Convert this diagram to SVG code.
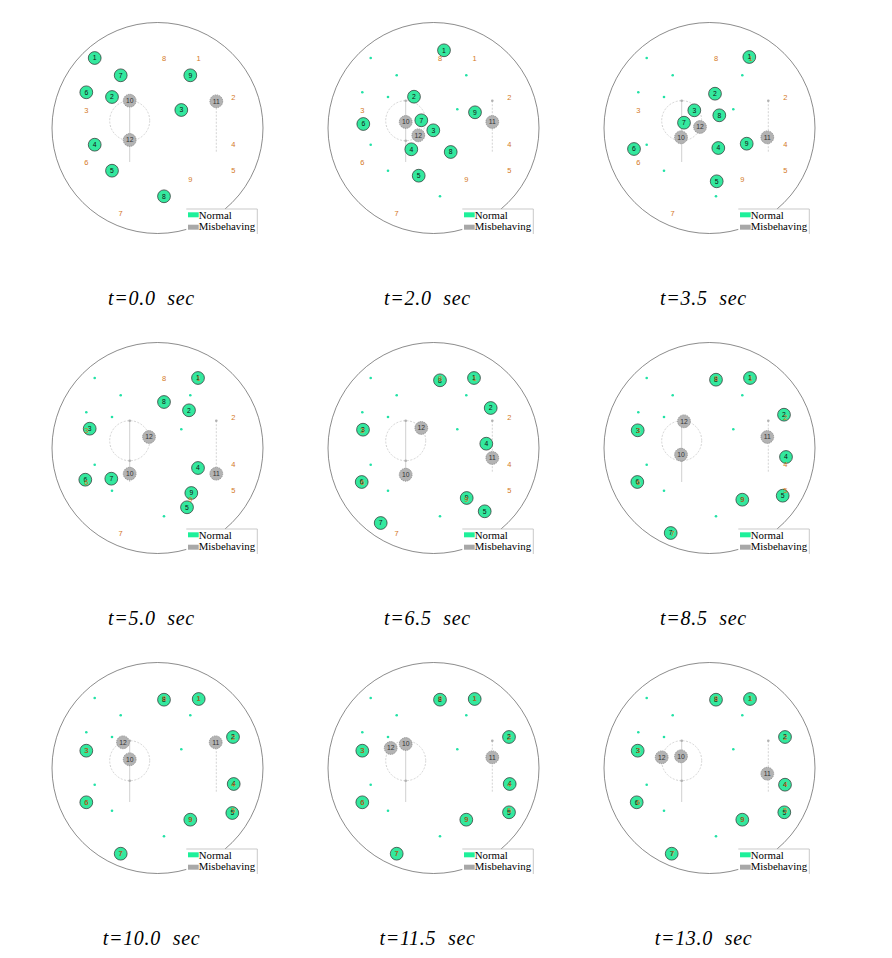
<svg xmlns="http://www.w3.org/2000/svg" width="892" height="958" viewBox="0 0 892 958">
<style>
.bd{fill:none;stroke:#5a5a5a;stroke-width:0.7}
.tr{stroke:#c4c4c4;stroke-width:0.8;fill:none}
.trd{stroke:#c8c8c8;stroke-width:0.8;fill:none;stroke-dasharray:2 1.5}
.gd{fill:#b0b0b0}
.sd{fill:#22e2a6}
.tg{font-family:"Liberation Sans",Arial,sans-serif;font-size:7.5px;fill:#d4791f;text-anchor:middle}
.nn circle{fill:#34e89e;stroke:#2b2b2b;stroke-width:0.7}
.nm circle{fill:#b3b3b3;stroke:#808080;stroke-width:0.7;stroke-dasharray:1.5 0.8}
.nn text,.nm text{font-family:"Liberation Sans",Arial,sans-serif;font-size:6.8px;text-anchor:middle;fill:#111}
.nm text{fill:#333}
.lg{font-family:"Liberation Serif","Times New Roman",serif;font-size:10.8px;fill:#000}
.cap{font-family:"Liberation Serif","Times New Roman",serif;font-style:italic;font-size:20px;letter-spacing:0.7px;word-spacing:6px;text-anchor:middle;fill:#000}
</style>
<defs>
<g id="boundary"><circle class="bd" cx="109.5" cy="110" r="105.5"/></g>
<g id="trajectories">
<circle class="trd" cx="81.7" cy="102.7" r="20"/>
<line class="tr" x1="81.7" y1="82.7" x2="81.7" y2="144"/>
<circle class="gd" cx="81.7" cy="82.7" r="1.3"/>
<circle class="gd" cx="81.7" cy="122.7" r="1.3"/>
<line class="trd" x1="168.3" y1="82.7" x2="168.3" y2="135"/>
<circle class="gd" cx="168.3" cy="82.7" r="1.3"/>
</g>
<g id="starts">
<circle class="sd" cx="46.7" cy="40" r="1.3"/>
<circle class="sd" cx="72.7" cy="57.3" r="1.3"/>
<circle class="sd" cx="38.3" cy="74.3" r="1.3"/>
<circle class="sd" cx="64" cy="79" r="1.3"/>
<circle class="sd" cx="133.3" cy="91.3" r="1.3"/>
<circle class="sd" cx="142.3" cy="57.3" r="1.3"/>
<circle class="sd" cx="46.7" cy="126.7" r="1.3"/>
<circle class="sd" cx="64" cy="152.7" r="1.3"/>
<circle class="sd" cx="116" cy="178.3" r="1.3"/>
</g>
<g id="targets">
<text class="tg" x="116" y="43.3">8</text>
<text class="tg" x="150.7" y="43.3">1</text>
<text class="tg" x="185.3" y="81.6">2</text>
<text class="tg" x="38.3" y="94.6">3</text>
<text class="tg" x="185.3" y="129.3">4</text>
<text class="tg" x="38.3" y="146.6">6</text>
<text class="tg" x="185.3" y="155.3">5</text>
<text class="tg" x="142.3" y="164.3">9</text>
<text class="tg" x="72.7" y="198.3">7</text>
</g>
<g id="legend">
<rect x="138.3" y="191" width="71" height="25" fill="#fff"/>
<path d="M138.3,191H209.3V216" fill="none" stroke="#bbb" stroke-width="0.8"/>
<rect x="140" y="194.3" width="10.7" height="5" fill="#1ef09a"/>
<text class="lg" x="150.7" y="200.5">Normal</text>
<rect x="140" y="206.7" width="10.7" height="5" fill="#a8a8a8"/>
<text class="lg" x="150.7" y="212">Misbehaving</text>
</g>
</defs>

<g id="panel-t0" transform="translate(48,18)">
<use href="#boundary"/><use href="#trajectories"/>
<g id="p1-n1" class="nn" transform="translate(46.7,40)"><circle r="6.4"/><text y="2.4">1</text></g>
<g id="p1-n2" class="nn" transform="translate(64,79)"><circle r="6.4"/><text y="2.4">2</text></g>
<g id="p1-n3" class="nn" transform="translate(133.3,92)"><circle r="6.4"/><text y="2.4">3</text></g>
<g id="p1-n4" class="nn" transform="translate(46.7,126.7)"><circle r="6.4"/><text y="2.4">4</text></g>
<g id="p1-n5" class="nn" transform="translate(64,152.7)"><circle r="6.4"/><text y="2.4">5</text></g>
<g id="p1-n6" class="nn" transform="translate(38.3,74.3)"><circle r="6.4"/><text y="2.4">6</text></g>
<g id="p1-n7" class="nn" transform="translate(72.7,57.3)"><circle r="6.4"/><text y="2.4">7</text></g>
<g id="p1-n8" class="nn" transform="translate(116,178.3)"><circle r="6.4"/><text y="2.4">8</text></g>
<g id="p1-n9" class="nn" transform="translate(142.3,57.3)"><circle r="6.4"/><text y="2.4">9</text></g>
<g id="p1-n10" class="nm" transform="translate(81.7,82.7)"><circle r="6.4"/><text y="2.4">10</text></g>
<g id="p1-n11" class="nm" transform="translate(168.3,83.3)"><circle r="6.4"/><text y="2.4">11</text></g>
<g id="p1-n12" class="nm" transform="translate(81.7,122)"><circle r="6.4"/><text y="2.4">12</text></g>
<use href="#targets"/><use href="#legend"/>
<text class="cap" x="103.5" y="287">t=0.0 sec</text>
</g>

<g id="panel-t2" transform="translate(324,18)">
<use href="#boundary"/><use href="#trajectories"/><use href="#starts"/>
<g id="p2-n1" class="nn" transform="translate(120,32.3)"><circle r="6.4"/><text y="2.4">1</text></g>
<g id="p2-n2" class="nn" transform="translate(90,78.7)"><circle r="6.4"/><text y="2.4">2</text></g>
<g id="p2-n3" class="nn" transform="translate(109.3,112.3)"><circle r="6.4"/><text y="2.4">3</text></g>
<g id="p2-n4" class="nn" transform="translate(87.3,131.3)"><circle r="6.4"/><text y="2.4">4</text></g>
<g id="p2-n5" class="nn" transform="translate(94.7,157.7)"><circle r="6.4"/><text y="2.4">5</text></g>
<g id="p2-n6" class="nn" transform="translate(39.3,106)"><circle r="6.4"/><text y="2.4">6</text></g>
<g id="p2-n8" class="nn" transform="translate(126.7,134)"><circle r="6.4"/><text y="2.4">8</text></g>
<g id="p2-n9" class="nn" transform="translate(151,94.3)"><circle r="6.4"/><text y="2.4">9</text></g>
<g id="p2-n10" class="nm" transform="translate(81.7,104)"><circle r="6.4"/><text y="2.4">10</text></g>
<g id="p2-n11" class="nm" transform="translate(168.3,104)"><circle r="6.4"/><text y="2.4">11</text></g>
<g id="p2-n12" class="nm" transform="translate(94.3,117.3)"><circle r="6.4"/><text y="2.4">12</text></g>
<g id="p2-n7" class="nn" transform="translate(97.3,102.3)"><circle r="6.4"/><text y="2.4">7</text></g>
<use href="#targets"/><use href="#legend"/>
<text class="cap" x="103.5" y="287">t=2.0 sec</text>
</g>

<g id="panel-t3.5" transform="translate(600,18)">
<use href="#boundary"/><use href="#trajectories"/><use href="#starts"/>
<g id="p3-n1" class="nn" transform="translate(149.3,39)"><circle r="6.4"/><text y="2.4">1</text></g>
<g id="p3-n2" class="nn" transform="translate(115,75.7)"><circle r="6.4"/><text y="2.4">2</text></g>
<g id="p3-n3" class="nn" transform="translate(94.3,92.3)"><circle r="6.4"/><text y="2.4">3</text></g>
<g id="p3-n4" class="nn" transform="translate(118.3,130)"><circle r="6.4"/><text y="2.4">4</text></g>
<g id="p3-n5" class="nn" transform="translate(116.7,163.3)"><circle r="6.4"/><text y="2.4">5</text></g>
<g id="p3-n6" class="nn" transform="translate(34,131)"><circle r="6.4"/><text y="2.4">6</text></g>
<g id="p3-n8" class="nn" transform="translate(119.3,97.3)"><circle r="6.4"/><text y="2.4">8</text></g>
<g id="p3-n9" class="nn" transform="translate(146.7,125.7)"><circle r="6.4"/><text y="2.4">9</text></g>
<g id="p3-n10" class="nm" transform="translate(81,119.3)"><circle r="6.4"/><text y="2.4">10</text></g>
<g id="p3-n11" class="nm" transform="translate(167.3,119.3)"><circle r="6.4"/><text y="2.4">11</text></g>
<g id="p3-n12" class="nm" transform="translate(100,109)"><circle r="6.4"/><text y="2.4">12</text></g>
<g id="p3-n7" class="nn" transform="translate(84,104.7)"><circle r="6.4"/><text y="2.4">7</text></g>
<use href="#targets"/><use href="#legend"/>
<text class="cap" x="103.5" y="287">t=3.5 sec</text>
</g>

<g id="panel-t5" transform="translate(48,338)">
<use href="#boundary"/><use href="#trajectories"/><use href="#starts"/>
<g id="p4-n1" class="nn" transform="translate(150,40)"><circle r="6.4"/><text y="2.4">1</text></g>
<g id="p4-n2" class="nn" transform="translate(141,72.3)"><circle r="6.4"/><text y="2.4">2</text></g>
<g id="p4-n3" class="nn" transform="translate(41.7,90.7)"><circle r="6.4"/><text y="2.4">3</text></g>
<g id="p4-n4" class="nn" transform="translate(150,130)"><circle r="6.4"/><text y="2.4">4</text></g>
<g id="p4-n5" class="nn" transform="translate(139,169.3)"><circle r="6.4"/><text y="2.4">5</text></g>
<g id="p4-n6" class="nn" transform="translate(37.3,141.7)"><circle r="6.4"/><text y="2.4">6</text></g>
<g id="p4-n7" class="nn" transform="translate(63.3,140.7)"><circle r="6.4"/><text y="2.4">7</text></g>
<g id="p4-n8" class="nn" transform="translate(116,64)"><circle r="6.4"/><text y="2.4">8</text></g>
<g id="p4-n9" class="nn" transform="translate(143.3,155)"><circle r="6.4"/><text y="2.4">9</text></g>
<g id="p4-n10" class="nm" transform="translate(81.7,135.7)"><circle r="6.4"/><text y="2.4">10</text></g>
<g id="p4-n11" class="nm" transform="translate(168.3,135.7)"><circle r="6.4"/><text y="2.4">11</text></g>
<g id="p4-n12" class="nm" transform="translate(101,99)"><circle r="6.4"/><text y="2.4">12</text></g>
<use href="#targets"/><use href="#legend"/>
<text class="cap" x="103.5" y="287">t=5.0 sec</text>
</g>

<g id="panel-t6.5" transform="translate(324,338)">
<use href="#boundary"/><use href="#trajectories"/><use href="#starts"/>
<g id="p5-n1" class="nn" transform="translate(150,40)"><circle r="6.4"/><text y="2.4">1</text></g>
<g id="p5-n2" class="nn" transform="translate(166.7,70)"><circle r="6.4"/><text y="2.4">2</text></g>
<g id="p5-n3" class="nn" transform="translate(39,91.7)"><circle r="6.4"/><text y="2.4">3</text></g>
<g id="p5-n4" class="nn" transform="translate(162.3,105.7)"><circle r="6.4"/><text y="2.4">4</text></g>
<g id="p5-n5" class="nn" transform="translate(160.7,173.3)"><circle r="6.4"/><text y="2.4">5</text></g>
<g id="p5-n6" class="nn" transform="translate(37.7,144)"><circle r="6.4"/><text y="2.4">6</text></g>
<g id="p5-n7" class="nn" transform="translate(56.7,185)"><circle r="6.4"/><text y="2.4">7</text></g>
<g id="p5-n8" class="nn" transform="translate(116,42.3)"><circle r="6.4"/><text y="2.4">8</text></g>
<g id="p5-n9" class="nn" transform="translate(142.7,160)"><circle r="6.4"/><text y="2.4">9</text></g>
<g id="p5-n10" class="nm" transform="translate(81.7,136.7)"><circle r="6.4"/><text y="2.4">10</text></g>
<g id="p5-n11" class="nm" transform="translate(168.3,120)"><circle r="6.4"/><text y="2.4">11</text></g>
<g id="p5-n12" class="nm" transform="translate(97.3,90)"><circle r="6.4"/><text y="2.4">12</text></g>
<use href="#targets"/><use href="#legend"/>
<text class="cap" x="103.5" y="287">t=6.5 sec</text>
</g>

<g id="panel-t8.5" transform="translate(600,338)">
<use href="#boundary"/><use href="#trajectories"/><use href="#starts"/>
<g id="p6-n1" class="nn" transform="translate(150,40)"><circle r="6.4"/><text y="2.4">1</text></g>
<g id="p6-n2" class="nn" transform="translate(184,76.7)"><circle r="6.4"/><text y="2.4">2</text></g>
<g id="p6-n3" class="nn" transform="translate(37.7,92.3)"><circle r="6.4"/><text y="2.4">3</text></g>
<g id="p6-n4" class="nn" transform="translate(186,119)"><circle r="6.4"/><text y="2.4">4</text></g>
<g id="p6-n5" class="nn" transform="translate(182.7,157.7)"><circle r="6.4"/><text y="2.4">5</text></g>
<g id="p6-n6" class="nn" transform="translate(37.3,144)"><circle r="6.4"/><text y="2.4">6</text></g>
<g id="p6-n7" class="nn" transform="translate(70.7,195)"><circle r="6.4"/><text y="2.4">7</text></g>
<g id="p6-n8" class="nn" transform="translate(116,41.7)"><circle r="6.4"/><text y="2.4">8</text></g>
<g id="p6-n9" class="nn" transform="translate(142.3,161.7)"><circle r="6.4"/><text y="2.4">9</text></g>
<g id="p6-n10" class="nm" transform="translate(81,116.7)"><circle r="6.4"/><text y="2.4">10</text></g>
<g id="p6-n11" class="nm" transform="translate(167.3,99)"><circle r="6.4"/><text y="2.4">11</text></g>
<g id="p6-n12" class="nm" transform="translate(84,83.3)"><circle r="6.4"/><text y="2.4">12</text></g>
<use href="#targets"/><use href="#legend"/>
<text class="cap" x="103.5" y="287">t=8.5 sec</text>
</g>

<g id="panel-t10" transform="translate(48,658)">
<use href="#boundary"/><use href="#trajectories"/><use href="#starts"/>
<g id="p7-n1" class="nn" transform="translate(150.7,41)"><circle r="6.4"/><text y="2.4">1</text></g>
<g id="p7-n2" class="nn" transform="translate(185,79)"><circle r="6.4"/><text y="2.4">2</text></g>
<g id="p7-n3" class="nn" transform="translate(38.3,92.7)"><circle r="6.4"/><text y="2.4">3</text></g>
<g id="p7-n4" class="nn" transform="translate(185.7,126)"><circle r="6.4"/><text y="2.4">4</text></g>
<g id="p7-n5" class="nn" transform="translate(184.3,155)"><circle r="6.4"/><text y="2.4">5</text></g>
<g id="p7-n6" class="nn" transform="translate(38.3,144.3)"><circle r="6.4"/><text y="2.4">6</text></g>
<g id="p7-n7" class="nn" transform="translate(72.7,195.7)"><circle r="6.4"/><text y="2.4">7</text></g>
<g id="p7-n8" class="nn" transform="translate(116,41.7)"><circle r="6.4"/><text y="2.4">8</text></g>
<g id="p7-n9" class="nn" transform="translate(142.3,161.7)"><circle r="6.4"/><text y="2.4">9</text></g>
<g id="p7-n10" class="nm" transform="translate(81.7,101.3)"><circle r="6.4"/><text y="2.4">10</text></g>
<g id="p7-n11" class="nm" transform="translate(167.7,84.3)"><circle r="6.4"/><text y="2.4">11</text></g>
<g id="p7-n12" class="nm" transform="translate(75,84.3)"><circle r="6.4"/><text y="2.4">12</text></g>
<use href="#targets"/><use href="#legend"/>
<text class="cap" x="103.5" y="287">t=10.0 sec</text>
</g>

<g id="panel-t11.5" transform="translate(324,658)">
<use href="#boundary"/><use href="#trajectories"/><use href="#starts"/>
<g id="p8-n1" class="nn" transform="translate(150.7,41)"><circle r="6.4"/><text y="2.4">1</text></g>
<g id="p8-n2" class="nn" transform="translate(185,79)"><circle r="6.4"/><text y="2.4">2</text></g>
<g id="p8-n3" class="nn" transform="translate(38.3,92.7)"><circle r="6.4"/><text y="2.4">3</text></g>
<g id="p8-n4" class="nn" transform="translate(185.7,126)"><circle r="6.4"/><text y="2.4">4</text></g>
<g id="p8-n5" class="nn" transform="translate(185,154.3)"><circle r="6.4"/><text y="2.4">5</text></g>
<g id="p8-n6" class="nn" transform="translate(38.3,144.3)"><circle r="6.4"/><text y="2.4">6</text></g>
<g id="p8-n7" class="nn" transform="translate(72.7,195.7)"><circle r="6.4"/><text y="2.4">7</text></g>
<g id="p8-n8" class="nn" transform="translate(116,41.7)"><circle r="6.4"/><text y="2.4">8</text></g>
<g id="p8-n9" class="nn" transform="translate(142.3,161.7)"><circle r="6.4"/><text y="2.4">9</text></g>
<g id="p8-n12" class="nm" transform="translate(66.7,90)"><circle r="6.4"/><text y="2.4">12</text></g>
<g id="p8-n10" class="nm" transform="translate(81.7,86)"><circle r="6.4"/><text y="2.4">10</text></g>
<g id="p8-n11" class="nm" transform="translate(168.3,99.3)"><circle r="6.4"/><text y="2.4">11</text></g>
<use href="#targets"/><use href="#legend"/>
<text class="cap" x="103.5" y="287">t=11.5 sec</text>
</g>

<g id="panel-t13" transform="translate(600,658)">
<use href="#boundary"/><use href="#trajectories"/><use href="#starts"/>
<g id="p9-n1" class="nn" transform="translate(150,41)"><circle r="6.4"/><text y="2.4">1</text></g>
<g id="p9-n2" class="nn" transform="translate(185,79)"><circle r="6.4"/><text y="2.4">2</text></g>
<g id="p9-n3" class="nn" transform="translate(37.7,92.7)"><circle r="6.4"/><text y="2.4">3</text></g>
<g id="p9-n4" class="nn" transform="translate(185,126.7)"><circle r="6.4"/><text y="2.4">4</text></g>
<g id="p9-n5" class="nn" transform="translate(184.3,154.3)"><circle r="6.4"/><text y="2.4">5</text></g>
<g id="p9-n6" class="nn" transform="translate(36.7,144.3)"><circle r="6.4"/><text y="2.4">6</text></g>
<g id="p9-n7" class="nn" transform="translate(71.7,195.7)"><circle r="6.4"/><text y="2.4">7</text></g>
<g id="p9-n8" class="nn" transform="translate(116,41.7)"><circle r="6.4"/><text y="2.4">8</text></g>
<g id="p9-n9" class="nn" transform="translate(142.3,161.7)"><circle r="6.4"/><text y="2.4">9</text></g>
<g id="p9-n12" class="nm" transform="translate(61.7,99.3)"><circle r="6.4"/><text y="2.4">12</text></g>
<g id="p9-n10" class="nm" transform="translate(81,98.3)"><circle r="6.4"/><text y="2.4">10</text></g>
<g id="p9-n11" class="nm" transform="translate(167.3,115.7)"><circle r="6.4"/><text y="2.4">11</text></g>
<use href="#targets"/><use href="#legend"/>
<text class="cap" x="103.5" y="287">t=13.0 sec</text>
</g>
</svg>
